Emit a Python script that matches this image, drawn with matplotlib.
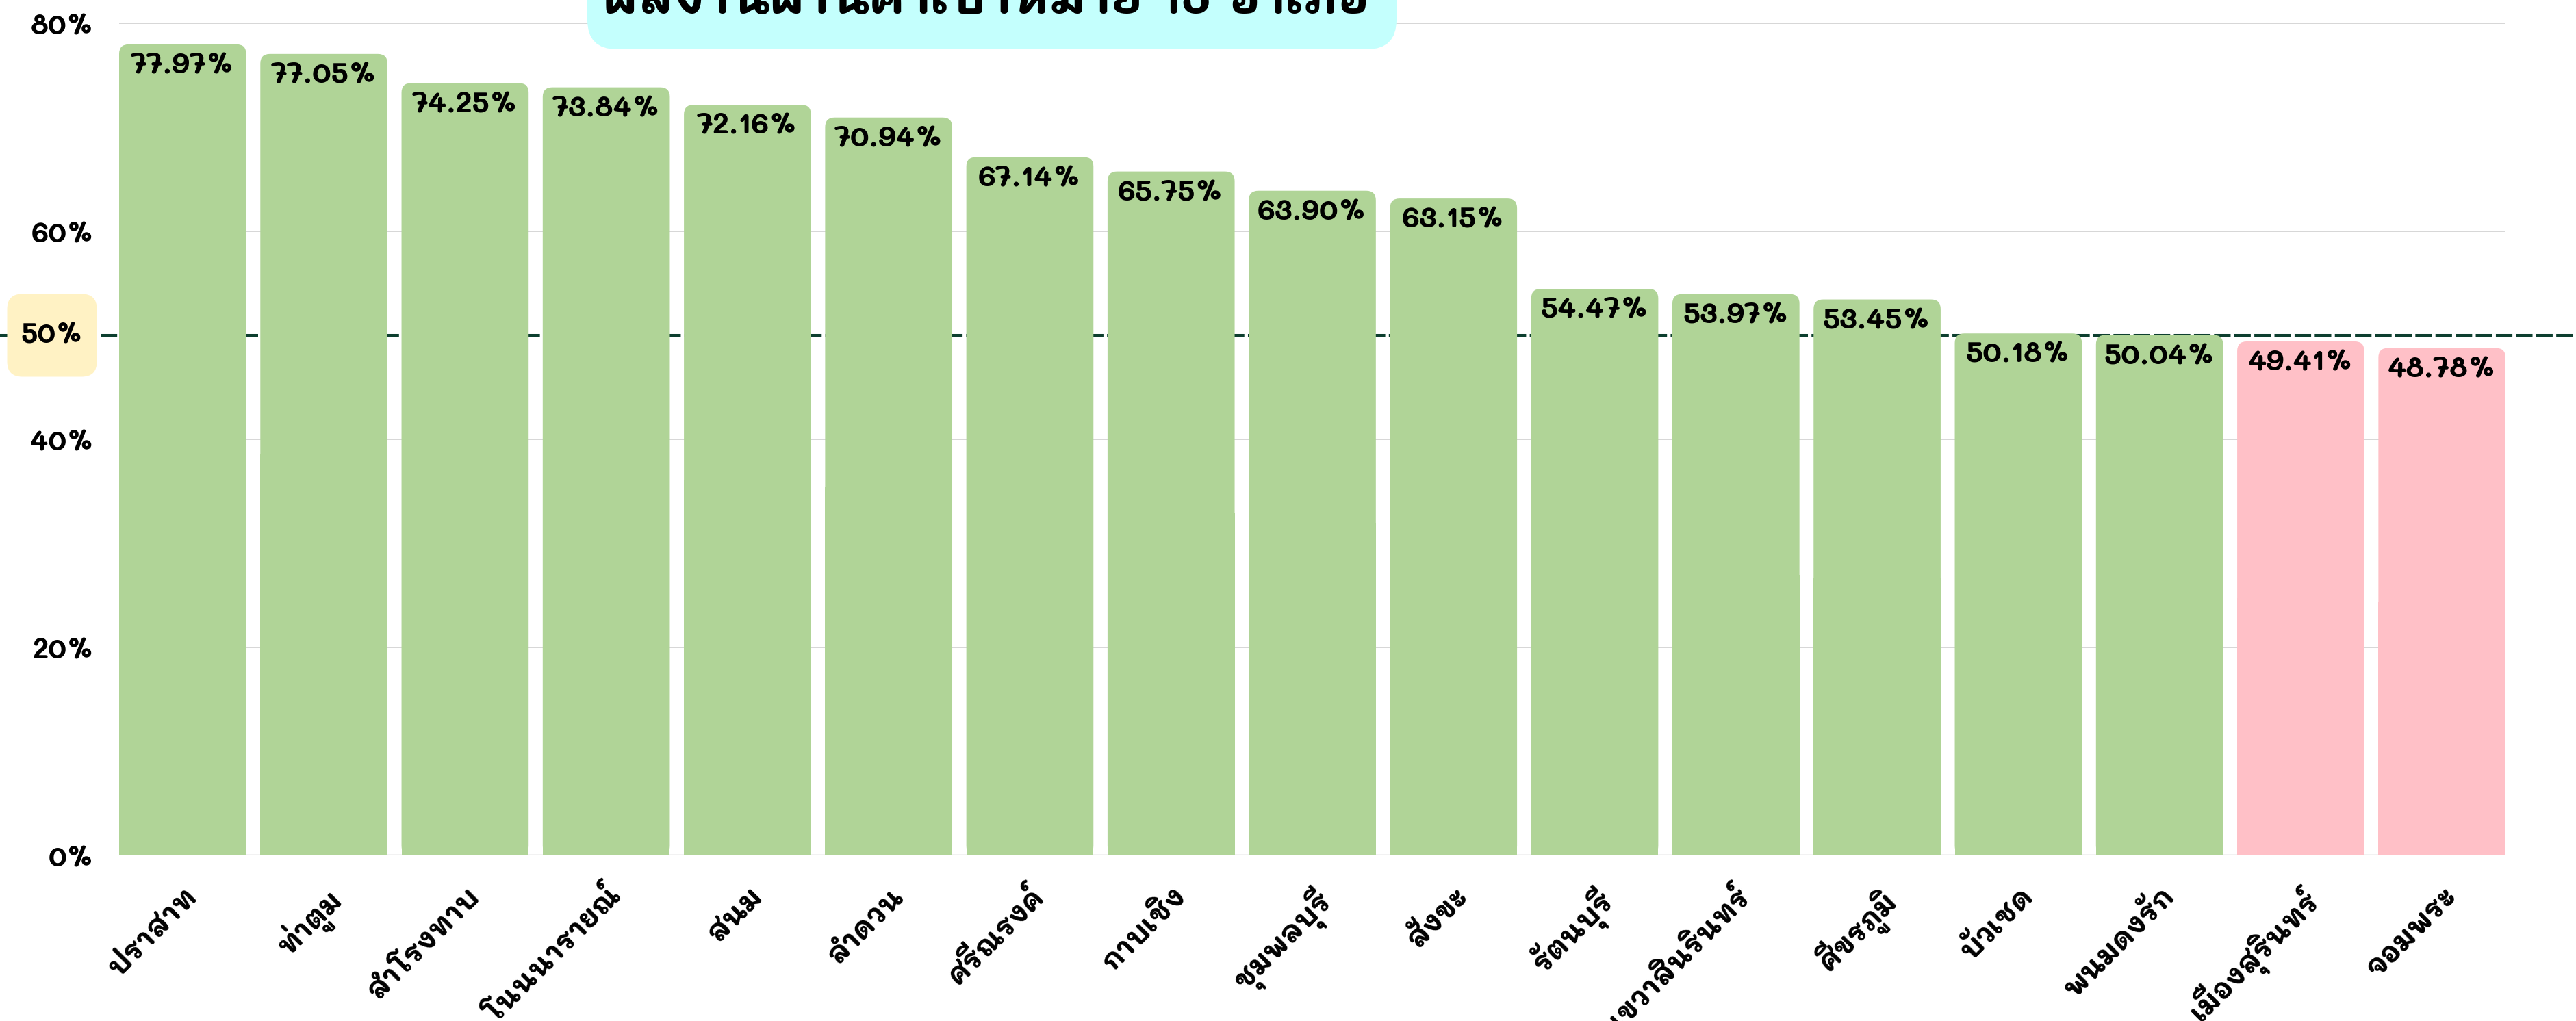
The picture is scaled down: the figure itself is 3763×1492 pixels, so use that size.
import matplotlib
matplotlib.use('Agg')
import matplotlib.pyplot as plt
import matplotlib.transforms as mtransforms
from matplotlib.patches import FancyBboxPatch, Rectangle

# อำเภอ เรียงจากมากไปน้อย
districts = ['ปราสาท', 'ท่าตูม', 'สำโรงทาบ', 'โนนนารายณ์', 'สนม', 'ลำดวน', 'ศรีณรงค์',
             'กาบเชิง', 'ชุมพลบุรี', 'สังขะ', 'รัตนบุรี', 'เขวาสินรินทร์', 'ศีขรภูมิ',
             'บัวเชด', 'พนมดงรัก', 'เมืองสุรินทร์', 'จอมพระ']
values = [77.97, 77.05, 74.25, 73.84, 72.16, 70.94, 67.14, 65.75, 63.90, 63.15,
          54.47, 53.97, 53.45, 50.18, 50.04, 49.41, 48.78]
target = 50
yticks = [0, 20, 40, 60, 80]
title = 'ผลงานผ่านค่าเป้าหมาย 15 อำเภอ'

GREEN = '#b0d497'
PINK = '#ffc0c7'
W, H = 3763, 1492

plt.rcParams['font.family'] = ['Mali', 'DejaVu Sans']
plt.rcParams['font.weight'] = 'bold'

fig = plt.figure(figsize=(W / 100, H / 100), dpi=100)
ax = fig.add_axes([174 / W, 1 - 1250 / H, (3660 - 174) / W, (1250 - 34) / H])

x = list(range(len(values)))
colors = [GREEN if v >= target else PINK for v in values]
bars = ax.bar(x, values, width=0.9, color=colors, zorder=2)

ax.set_xlim(-0.45, len(values) - 0.55)
ax.set_ylim(0, 80)

# rounded tops for the bars
px_x = (3660 - 174) / (len(values) - 0.1)
px_y = (1250 - 34) / 80
rx = 14 / px_x
aspect = (14 / px_y) / rx
for b in bars:
    bx, by, bw, bh = b.get_x(), b.get_y(), b.get_width(), b.get_height()
    c = b.get_facecolor()
    b.remove()
    ax.add_patch(FancyBboxPatch((bx, by), bw, bh, boxstyle=f'round,pad=0,rounding_size={rx}',
                                mutation_aspect=aspect, fc=c, ec='none', zorder=2))
    ax.add_patch(Rectangle((bx, by), bw, bh / 2, fc=c, ec='none', zorder=2))

for xi, v in zip(x, values):
    ax.annotate(f'{v:.2f}%', (xi, v), xytext=(0, -7), textcoords='offset points',
                ha='center', va='top', fontsize=31, fontweight='bold', color='black', zorder=4)

ax.set_yticks(yticks)
ax.set_yticklabels([f'{t}%' for t in yticks])
ax.set_xticks(x)
ax.set_xticklabels(districts)
ax.tick_params(axis='y', length=0, pad=26, labelsize=30)
ax.tick_params(axis='x', length=0, pad=28, labelsize=30)
plt.setp(ax.get_xticklabels(), rotation=45, ha='right', rotation_mode='anchor')
for s in ax.spines.values():
    s.set_visible(False)
ax.grid(axis='y', color='#cfcfcf', linewidth=1.2, zorder=0)
ax.set_axisbelow(True)
ax.axhline(0, color='#8a8a8a', linewidth=1.6, zorder=1)

# target line across the whole figure
blend = mtransforms.blended_transform_factory(fig.transFigure, ax.transData)
ax.plot([0, 1], [target, target], transform=blend, clip_on=False, color='#0d3f2f',
        linewidth=2.9, linestyle=(0, (6, 1.3)), zorder=1.5)

# 50% badge
bw_f = 131 / W
bh_d = 121 / px_y
r_f = 22 / W
ax.add_patch(FancyBboxPatch((76 / W - bw_f / 2, target - bh_d / 2), bw_f, bh_d,
                            boxstyle=f'round,pad=0,rounding_size={r_f}',
                            mutation_aspect=(22 / px_y) / r_f, transform=blend,
                            fc='#fff2c4', ec='none', clip_on=False, zorder=3))
ax.text(76 / W, target, f'{target}%', transform=blend, ha='center', va='center',
        fontsize=30, fontweight='bold', color='black', clip_on=False, zorder=4)

# title box, cut at the top edge
rt = 43 / W
fig.patches.append(FancyBboxPatch((858 / W, 1 - 72 / H), (2040 - 858) / W, 0.2,
                                  boxstyle=f'round,pad=0,rounding_size={rt}',
                                  mutation_aspect=W / H, transform=fig.transFigure,
                                  fc='#c4fffd', ec='none', zorder=3))
fig.text(1440 / W, 1 - 20 / H, title, ha='center', va='baseline', fontsize=52,
         fontweight='bold', color='black', zorder=4)

fig.savefig('out.png', dpi=100)
